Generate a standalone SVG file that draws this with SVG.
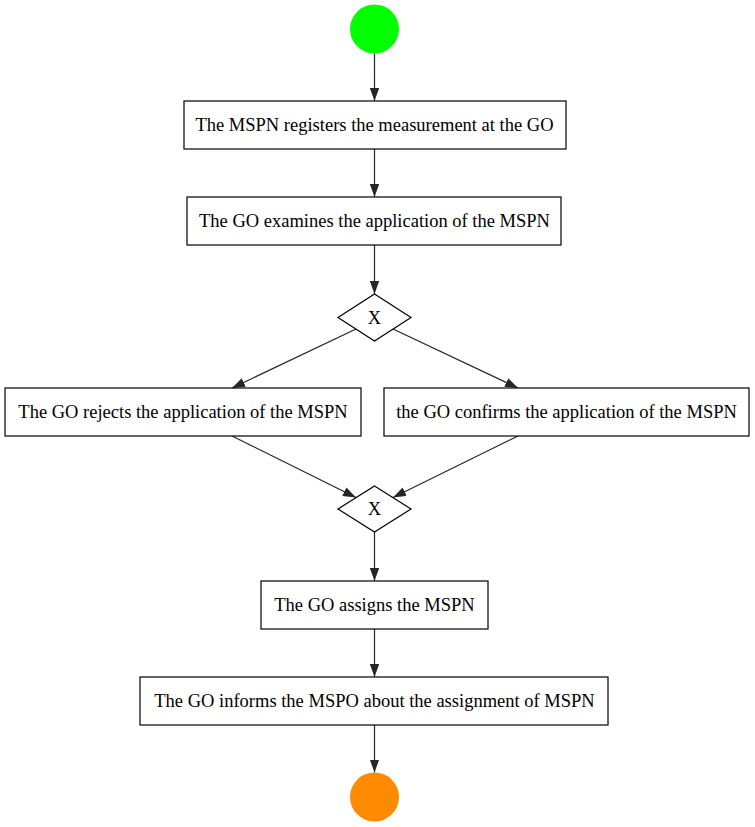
<svg xmlns="http://www.w3.org/2000/svg" width="755" height="827" viewBox="0 0 755 827">
<style>
.box{fill:#fff;stroke:#000;stroke-width:1.2}
.lbl{font-family:"Liberation Serif","Times New Roman",serif;font-size:18.5px;fill:#000;text-anchor:middle}
.edge{stroke:#262626;stroke-width:1.2;fill:none;marker-end:url(#arr)}
</style>
<defs>
<marker id="arr" markerUnits="userSpaceOnUse" markerWidth="14" markerHeight="10" refX="13" refY="5" orient="auto">
<path d="M0,0.3 L13,5 L0,9.7 z" fill="#262626"/>
</marker>
</defs>
<rect width="755" height="827" fill="#fff"/>
<g id="connectors">
<line class="edge" x1="374.5" y1="53.5" x2="374.5" y2="101"/>
<line class="edge" x1="374.5" y1="149" x2="374.5" y2="197"/>
<line class="edge" x1="374.5" y1="245" x2="374.5" y2="294"/>
<line class="edge" x1="356" y1="329" x2="232" y2="388"/>
<line class="edge" x1="393" y1="329" x2="518" y2="388"/>
<line class="edge" x1="232" y1="436" x2="356" y2="497.5"/>
<line class="edge" x1="518" y1="436" x2="393" y2="497.5"/>
<line class="edge" x1="374.5" y1="532" x2="374.5" y2="581"/>
<line class="edge" x1="374.5" y1="629" x2="374.5" y2="677"/>
<line class="edge" x1="374.5" y1="725" x2="374.5" y2="772.5"/>
</g>
<g id="start"><circle cx="374.5" cy="29" r="24.5" fill="#00ff00"/></g>
<g id="n1"><rect class="box" x="184" y="101" width="382" height="48"/><text class="lbl" x="374.5" y="131">The MSPN registers the measurement at the GO</text></g>
<g id="n2"><rect class="box" x="187" y="197" width="374" height="48"/><text class="lbl" x="374.5" y="227">The GO examines the application of the MSPN</text></g>
<g id="gw1"><polygon class="box" points="374.5,294 411,317.5 374.5,341 338,317.5"/><text class="lbl" x="374.5" y="323.5">X</text></g>
<g id="n3"><rect class="box" x="5" y="388" width="356" height="48"/><text class="lbl" x="183" y="418">The GO rejects the application of the MSPN</text></g>
<g id="n4"><rect class="box" x="384" y="388" width="365" height="48"/><text class="lbl" x="566.5" y="418">the GO confirms the application of the MSPN</text></g>
<g id="gw2"><polygon class="box" points="374.5,486 411,509 374.5,532 338,509"/><text class="lbl" x="374.5" y="515">X</text></g>
<g id="n5"><rect class="box" x="261" y="581" width="227" height="48"/><text class="lbl" x="374.5" y="611">The GO assigns the MSPN</text></g>
<g id="n6"><rect class="box" x="140" y="677" width="468" height="48"/><text class="lbl" x="374.5" y="707">The GO informs the MSPO about the assignment of MSPN</text></g>
<g id="end"><circle cx="374.5" cy="797" r="24.5" fill="#ff8c00"/></g>
</svg>
